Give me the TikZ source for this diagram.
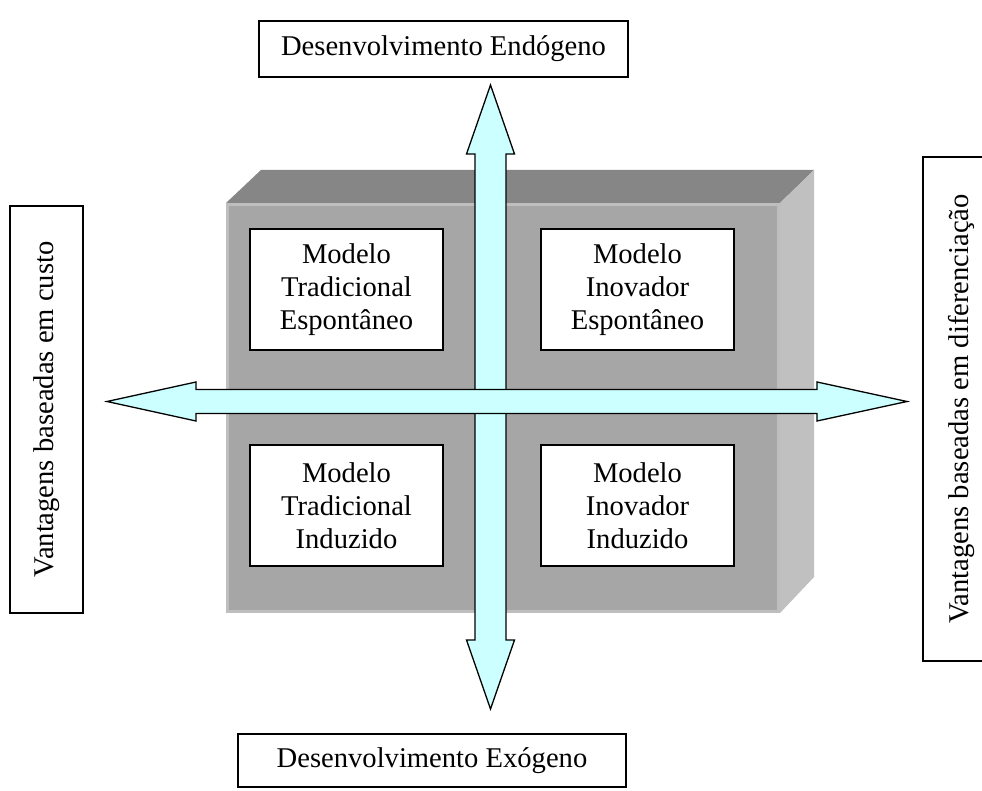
\documentclass[tikz,border=0pt]{standalone}
\usepackage{fontspec}
\setmainfont{Liberation Serif}
\definecolor{topgray}{HTML}{868686}
\definecolor{frontgray}{HTML}{A6A6A6}
\definecolor{sidegray}{HTML}{C0C0C0}
\definecolor{rimgray}{HTML}{BEBEBE}
\definecolor{arrowfill}{HTML}{CCFFFF}
\tikzset{
  txt/.style={font=\fontsize{28.6}{33}\selectfont},
  labelbox/.style={txt, draw=black, fill=white, line width=1.3pt, inner sep=0pt, align=center},
  modelbox/.style={labelbox, minimum width=193pt, minimum height=121pt},
  bigarrow/.style={draw=black, fill=arrowfill, line width=1.3pt, line join=miter},
}
\begin{document}
\begin{tikzpicture}[x=1pt,y=-1pt]
\useasboundingbox (0,0) rectangle (982,791);

% block with three visible faces
\fill[topgray] (226,203) -- (261,170) -- (814,170) -- (780,203) -- cycle;
\fill[sidegray] (780,203) -- (814,170) -- (814,577) -- (780,613) -- cycle;
\fill[frontgray] (226,203) rectangle (780,613);
\draw[rimgray, line width=2.5pt] (227.5,204.5) rectangle (778.5,611.5);

% four models
\node[modelbox] (te) at (346.5,289.5) {Modelo\\Tradicional\\Espontâneo};
\node[modelbox] (ie) at (637.5,289.5) {Modelo\\Inovador\\Espontâneo};
\node[modelbox] (ti) at (346.5,505.5) {Modelo\\Tradicional\\Induzido};
\node[modelbox] (ii) at (637.5,505.5) {Modelo\\Inovador\\Induzido};

% axis labels
\node[labelbox, minimum width=369pt, minimum height=56pt] (endo) at (443.5,49) {Desenvolvimento Endógeno};
\node[labelbox, minimum width=388pt, minimum height=53pt] (exo) at (432,760.5) {Desenvolvimento Exógeno};
\node[labelbox, rotate=90, minimum width=407pt, minimum height=73pt] (custo) at (46.5,409.5) {Vantagens baseadas em custo};
\node[labelbox, rotate=90, minimum width=504pt, minimum height=78pt] (dif) at (962,409) {Vantagens baseadas em diferenciação};

% vertical double arrow
\coordinate (vt) at (490.5,85);
\coordinate (vb) at (490.5,709);
\draw[bigarrow] (vt) -- ++(24,69) -- ++(-8.5,0) -- (506,640) -- ++(8.5,0) -- (vb)
  -- ++(-24,-69) -- ++(8.5,0) -- (475,154) -- ++(-8.5,0) -- cycle;

% horizontal double arrow
\coordinate (hl) at (107,401.5);
\coordinate (hr) at (907,401.5);
\draw[bigarrow] (hl) -- ++(89,-19.5) -- ++(0,7.5) -- (817,389.5) -- ++(0,-7.5) -- (hr)
  -- ++(-90,19.5) -- ++(0,-7.5) -- (196,413.5) -- ++(0,7.5) -- cycle;
\end{tikzpicture}
\end{document}
